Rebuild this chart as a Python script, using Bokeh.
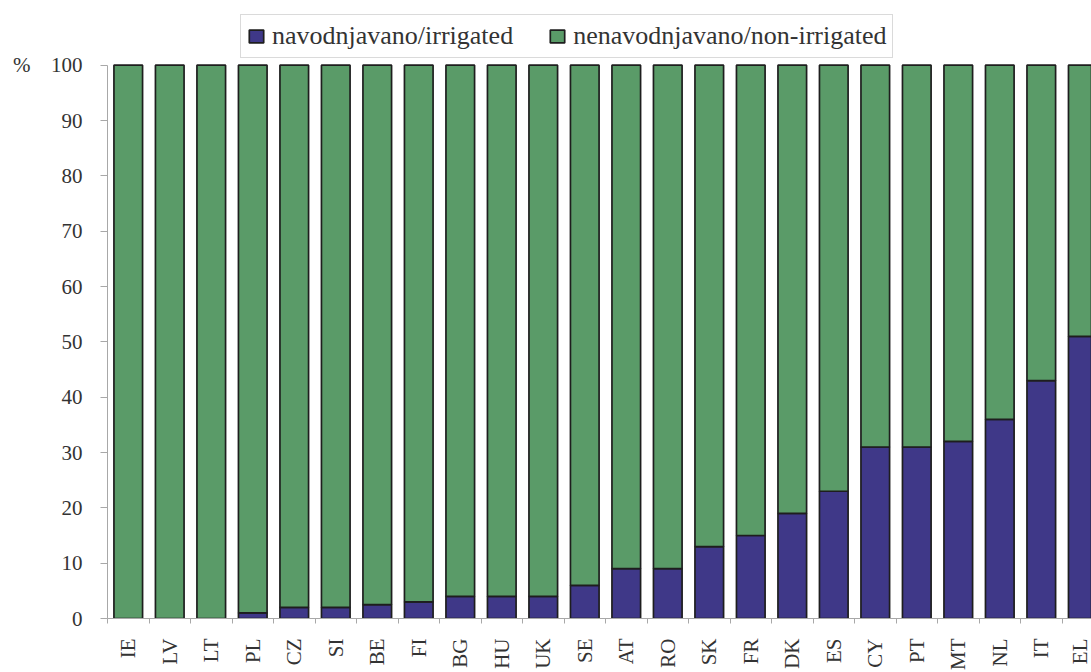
import math
from bokeh.plotting import figure
from bokeh.models import (ColumnDataSource, Range1d, FixedTicker, Legend,
                          LegendItem, LinearAxis)
from bokeh.embed import file_html
from bokeh.resources import INLINE

# Share of utilised agricultural area, irrigated vs. non-irrigated (%)
countries = ["IE", "LV", "LT", "PL", "CZ", "SI", "BE", "FI", "BG", "HU", "UK", "SE",
             "AT", "RO", "SK", "FR", "DK", "ES", "CY", "PT", "MT", "NL", "IT", "EL"]
irrigated = [0, 0, 0, 1, 2, 2, 2.5, 3, 4, 4, 4, 6,
             9, 9, 13, 15, 19, 23, 31, 31, 32, 36, 43, 51]
non_irrigated = [100, 100, 100, 99, 98, 98, 97.5, 97, 96, 96, 96, 94,
                 91, 91, 87, 85, 81, 77, 69, 69, 68, 64, 57, 49]
y_ticks = [0, 10, 20, 30, 40, 50, 60, 70, 80, 90, 100]

label_irr = "navodnjavano/irrigated"
label_non = "nenavodnjavano/non-irrigated"
unit = "%"

PURPLE = "#3f3888"
GREEN = "#5a9b68"
TEXT = "#333333"
AXIS = "#a8a8a8"
FONT = "Liberation Serif"

pos = list(range(len(countries)))
source = ColumnDataSource(dict(x=pos, irr=irrigated, non=non_irrigated))

# the frame reaches above 100 % so the legend box can sit over the bars
p = figure(frame_width=984, frame_height=608,
           min_border_left=107, min_border_right=0,
           min_border_top=10, min_border_bottom=54,
           x_range=Range1d(-0.5, 23.21), y_range=Range1d(0, 109.89),
           output_backend="svg", toolbar_location=None,
           background_fill_color="white", border_fill_color="white")
p.outline_line_color = None
p.xgrid.grid_line_color = None
p.ygrid.grid_line_color = None

bars = p.vbar_stack(["irr", "non"], x="x", width=0.69, source=source,
                    fill_color=[PURPLE, GREEN], line_color="#1e1e1e",
                    line_width=1.7)

# x axis: country codes at bar centres, small ticks between bars
xa = p.xaxis[0]
xa.ticker = FixedTicker(ticks=pos, minor_ticks=[i - 0.5 for i in range(len(countries) + 1)])
xa.major_label_overrides = {i: c for i, c in enumerate(countries)}
xa.major_label_orientation = math.pi / 2
xa.major_tick_out = 0
xa.major_tick_in = 0
xa.minor_tick_out = 5
xa.minor_tick_in = 0
xa.minor_tick_line_color = AXIS
xa.axis_line_color = AXIS
xa.major_label_standoff = 15
xa.major_label_text_font = FONT
xa.major_label_text_font_size = "21px"
xa.major_label_text_color = TEXT

# y axis: percentage scale, line limited to 0-100
ya = p.yaxis[0]
ya.ticker = FixedTicker(ticks=y_ticks)
ya.bounds = (0, 100)
ya.major_tick_out = 7
ya.major_tick_in = 0
ya.minor_tick_line_color = None
ya.major_tick_line_color = AXIS
ya.axis_line_color = AXIS
ya.major_label_standoff = 18
ya.major_label_text_font = FONT
ya.major_label_text_font_size = "21px"
ya.major_label_text_color = TEXT

# unit marker level with the top tick, outside the tick labels
unit_axis = LinearAxis(ticker=FixedTicker(ticks=[100]), bounds=(0, 100),
                       major_label_overrides={100: unit},
                       axis_line_color=None, major_tick_line_color=None,
                       minor_tick_line_color=None, major_tick_out=0,
                       major_tick_in=0, major_label_standoff=17,
                       major_label_text_font=FONT,
                       major_label_text_font_size="21px",
                       major_label_text_color=TEXT)
p.add_layout(unit_axis, "left")

legend = Legend(items=[LegendItem(label=label_irr, renderers=[bars[0]]),
                       LegendItem(label=label_non, renderers=[bars[1]])],
                orientation="horizontal", location=(133, 560),
                label_text_font="serif",
                label_text_font_size="26px",
                label_text_color=TEXT, glyph_width=18, glyph_height=16,
                label_standoff=7, spacing=35, padding=6, margin=0,
                border_line_color="#b5b5b5", border_line_width=1.5,
                background_fill_color="white", background_fill_alpha=1.0)
p.add_layout(legend, "center")

open("out.html", "w").write(file_html(p, INLINE))
